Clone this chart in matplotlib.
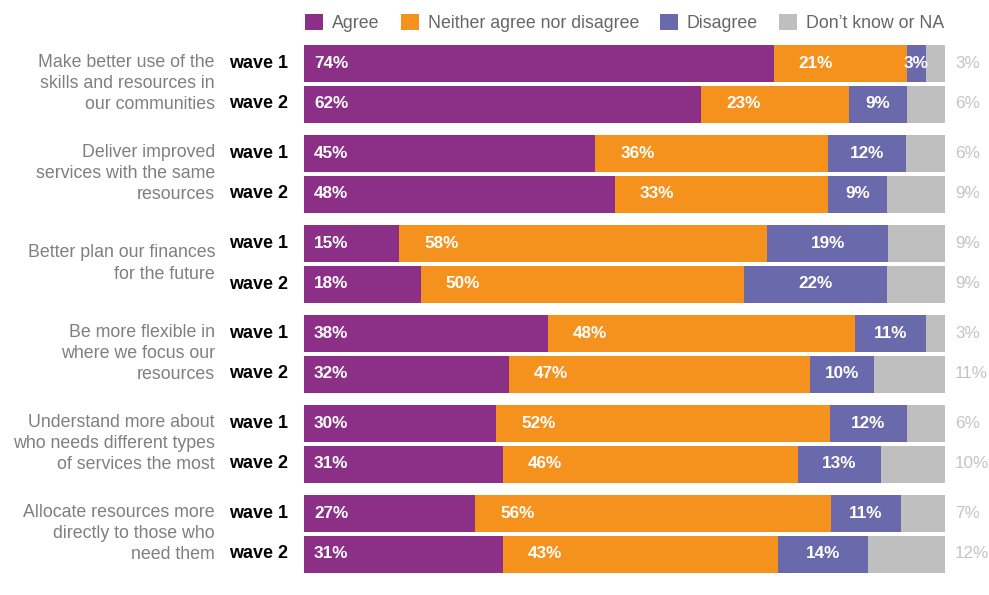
import matplotlib
matplotlib.use("Agg")
import matplotlib.pyplot as plt
from matplotlib.patches import Patch

plt.rcParams['font.family'] = ['Liberation Sans', 'DejaVu Sans']

categories = [
    "Make better use of the\nskills and resources in\nour communities",
    "Deliver improved\nservices with the same\nresources",
    "Better plan our finances\nfor the future",
    "Be more flexible in\nwhere we focus our\nresources",
    "Understand more about\nwho needs different types\nof services the most",
    "Allocate resources more\ndirectly to those who\nneed them",
]
waves = ["wave 1", "wave 2"]
series = ["Agree", "Neither agree nor disagree", "Disagree", "Don\u2019t know or NA"]

# values per category: [wave1, wave2]
agree    = [[74, 62], [45, 48], [15, 18], [38, 32], [30, 31], [27, 31]]
neither  = [[21, 23], [36, 33], [58, 50], [48, 47], [52, 46], [56, 43]]
disagree = [[3, 9],   [12, 9],  [19, 22], [11, 10], [12, 13], [11, 14]]
dontknow = [[3, 6],   [6, 9],   [9, 9],   [3, 11],  [6, 10],  [7, 12]]

colors = ["#8C2F87", "#F5921E", "#6A69AC", "#BFBFBF"]

W, H = 989, 595
fig = plt.figure(figsize=(W / 100, H / 100), dpi=100)
x0, x1 = 304, 945
ax = fig.add_axes([x0 / W, 0, (x1 - x0) / W, 1])
ax.set_xlim(0, 1)
ax.set_ylim(H, 0)
ax.axis("off")

group_pitch = 90
wave_pitch = 41
first_center = 63
bar_h = 37
lab_fs = 12.3

for i, cat in enumerate(categories):
    for j, wv in enumerate(waves):
        y = first_center + group_pitch * i + wave_pitch * j
        vals = [agree[i][j], neither[i][j], disagree[i][j], dontknow[i][j]]
        tot = sum(vals)
        left = 0
        for k, v in enumerate(vals):
            w = v / tot
            ax.barh(y, w, left=left, height=bar_h, color=colors[k], edgecolor="none")
            if k == 0:
                ax.text(left + 10 / 641, y, f"{v}%", color="white", fontsize=lab_fs,
                        fontweight="bold", va="center", ha="left")
            elif k == 1:
                ax.text(left + 25 / 641, y, f"{v}%", color="white", fontsize=lab_fs,
                        fontweight="bold", va="center", ha="left")
            elif k == 2:
                ax.text(left + w / 2, y, f"{v}%", color="white", fontsize=lab_fs,
                        fontweight="bold", va="center", ha="center")
            else:
                ax.text(1 + 10 / 641, y, f"{v}%", color="#C4C4C4", fontsize=lab_fs,
                        va="center", ha="left")
            left += w
        fig.text(229 / W, 1 - y / H, wv, fontsize=13, fontweight="bold",
                 color="black", va="center", ha="left")
    yc = first_center + group_pitch * i + wave_pitch / 2
    fig.text(215 / W, 1 - yc / H, cat, fontsize=12.8, color="#7F7F7F",
             va="center", ha="right", linespacing=1.33, multialignment="right")

handles = [Patch(facecolor=c, edgecolor="none") for c in colors]
fig.legend(handles, series, loc="upper left", bbox_to_anchor=(300 / W, 1 - 9 / H),
           ncol=4, frameon=False, fontsize=12.8, handlelength=1.0, handleheight=1.0,
           handletextpad=0.5, columnspacing=1.2, labelcolor="#666666",
           borderaxespad=0, borderpad=0.3)

fig.savefig("out.png", dpi=100, facecolor="white")
